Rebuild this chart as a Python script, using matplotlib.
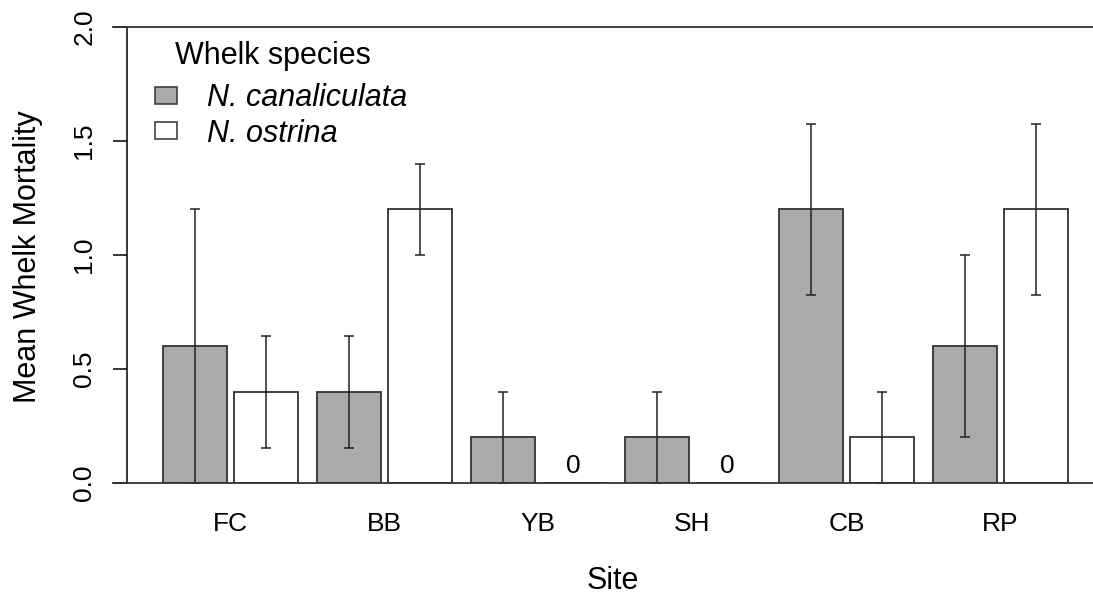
import numpy as np
import matplotlib.pyplot as plt
from matplotlib.patches import Patch

plt.rcParams['font.family'] = ['Liberation Sans', 'DejaVu Sans']

# 数据
sites = ['FC', 'BB', 'YB', 'SH', 'CB', 'RP']
species = ['N. canaliculata', 'N. ostrina']
canal_mean = [0.6, 0.4, 0.2, 0.2, 1.2, 0.6]
canal_se = [0.6, 0.245, 0.2, 0.2, 0.375, 0.4]
ostr_mean = [0.4, 1.2, 0.0, 0.0, 0.2, 1.2]
ostr_se = [0.245, 0.2, 0.0, 0.0, 0.2, 0.375]

W, H = 1093, 597
fig = plt.figure(figsize=(W / 100, H / 100), dpi=100)
ax = fig.add_axes([127 / W, 1 - 483 / H, (W - 127) / W, (483 - 27) / H])

# R barplot 风格: space = c(0.1, 0.3)
pitch = 2.4
idx = np.arange(len(sites))
x_c = idx * pitch + 0.5
x_o = idx * pitch + 1.6
x_mid = idx * pitch + 1.05

ax.bar(x_c, canal_mean, width=1, color='#aaaaaa', edgecolor='#333333', linewidth=1.3, zorder=2)
ax.bar(x_o, ostr_mean, width=1, color='white', edgecolor='#333333', linewidth=1.3, zorder=2)

for xs, m, s in [(x_c, canal_mean, canal_se), (x_o, ostr_mean, ostr_se)]:
    m = np.array(m)
    s = np.array(s)
    keep = s > 0
    ax.errorbar(xs[keep], m[keep], yerr=s[keep], fmt='none', ecolor='#222222',
                elinewidth=1.1, capsize=3.6, capthick=1.1, zorder=3)

# 零值标注
for x, m in zip(x_o, ostr_mean):
    if m == 0:
        ax.text(x, 0.02, '0', ha='center', va='bottom', fontsize=19)

ax.set_xlim(-0.56, 14.49)
ax.set_ylim(0, 2)

for s in ['top', 'right', 'bottom']:
    ax.spines[s].set_visible(False)
ax.spines['left'].set_linewidth(1.1)
ax.axhline(0, xmin=-14 / 966, xmax=1, color='#333333', lw=1.3, clip_on=False, zorder=4)
ax.axhline(2, xmin=-14 / 966, xmax=1, color='#333333', lw=1.3, clip_on=False, zorder=4)

ax.set_yticks([0, 0.5, 1.0, 1.5, 2.0])
ax.set_yticklabels(['0.0', '0.5', '1.0', '1.5', '2.0'], rotation=90, va='center', fontsize=19)
ax.tick_params(axis='y', length=10, width=1.1, pad=12)
ax.set_xticks(x_mid)
ax.set_xticklabels(sites, fontsize=19)
ax.tick_params(axis='x', length=0, pad=21)

fig.text(28 / W, 1 - 257 / H, 'Mean Whelk Mortality', rotation=90, ha='center', va='center', fontsize=22)
fig.text(613 / W, 1 - 581 / H, 'Site', ha='center', va='center', fontsize=22)

# 图例
fig.text(175 / W, 1 - 56 / H, 'Whelk species', ha='left', va='center', fontsize=22)
handles = [Patch(facecolor='#aaaaaa', edgecolor='#333333', linewidth=1.1),
           Patch(facecolor='white', edgecolor='#333333', linewidth=1.1)]
leg = fig.legend(handles, species, loc='upper left', bbox_to_anchor=(155 / W, 1 - 83.5 / H),
                 frameon=False, prop={'style': 'italic', 'size': 22}, borderpad=0,
                 borderaxespad=0, handlelength=0.72, handleheight=0.49,
                 handletextpad=0.98, labelspacing=0.17)

plt.savefig('out.png', dpi=100)
